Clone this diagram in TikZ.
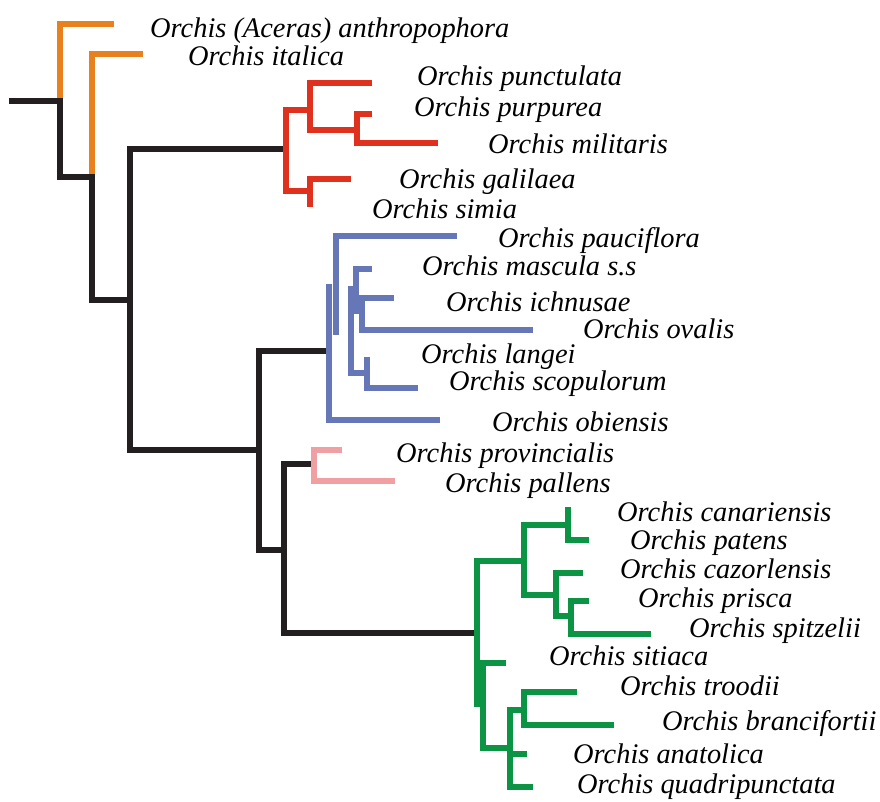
\documentclass[tikz,border=0pt]{standalone}
\usepackage{fontspec}
\setmainfont{Liberation Serif}
\begin{document}
\begin{tikzpicture}[x=1pt,y=-1pt,
  br/.style={line width=6pt,line join=miter,line cap=butt},
  blk/.style={br,draw=brblack},
  org/.style={br,draw=brorange},
  rd/.style={br,draw=brred},
  blu/.style={br,draw=brblue},
  pnk/.style={br,draw=brpink},
  grn/.style={br,draw=brgreen},
  taxon/.style={anchor=base west,inner sep=0pt,font=\fontsize{28.4}{34}\selectfont\itshape}]
\definecolor{brblack}{HTML}{231F20}
\definecolor{brorange}{HTML}{E8801E}
\definecolor{brred}{HTML}{E0301E}
\definecolor{brblue}{HTML}{6677B8}
\definecolor{brpink}{HTML}{F0A0A2}
\definecolor{brgreen}{HTML}{0A9444}
\useasboundingbox (0,0) rectangle (880,801);

% backbone
\draw[blk] (9,101) -- (60,101) -- (60,177) -- (92,177) -- (92,300) -- (130,300);
\draw[blk] (284,149) -- (130,149) -- (130,450) -- (259,450);
\draw[blk] (326,351) -- (259,351) -- (259,550) -- (284,550);
\draw[blk] (311,464) -- (284,464) -- (284,633) -- (475,633);

% anthropophora / italica
\draw[org] (60,98) -- (60,24) -- (114,24);
\draw[org] (92,174) -- (92,54) -- (143,54);

% militaris group
\draw[rd] (310,110) -- (286,110) -- (286,191) -- (310,191);
\draw[rd] (372,83) -- (310,83) -- (310,130) -- (357,130);
\draw[rd] (372,114) -- (357,114) -- (357,143) -- (438,143);
\draw[rd] (351,179) -- (310,179) -- (310,207);

% mascula group
\draw[blu] (457,236) -- (336,236) -- (336,335);
\draw[blu] (329,284) -- (329,420) -- (440,420);
\draw[blu] (350.5,285.7) -- (350.5,373) -- (367,373);
\draw[blu] (372,269) -- (356.3,269) -- (356.3,314.3);
\draw[blu] (394,298) -- (362,298) -- (362,330) -- (533,330);
\draw[blu] (367,357) -- (367,388) -- (418,388);

% provincialis / pallens
\draw[pnk] (342,450) -- (314,450) -- (314,481) -- (395,481);

% anatolica group
\draw[grn] (527,561) -- (477,561) -- (477,707);
\draw[grn] (570,525) -- (524,525) -- (524,595) -- (556,595);
\draw[grn] (568,507) -- (568,540) -- (589,540);
\draw[grn] (583,573) -- (556,573) -- (556,616) -- (571,616);
\draw[grn] (589,601) -- (571,601) -- (571,634) -- (651,634);
\draw[grn] (506,663) -- (483,663) -- (483,748) -- (510,748);
\draw[grn] (527,710) -- (510,710) -- (510,787) -- (533,787);
\draw[grn] (510,754) -- (527,754);
\draw[grn] (577,692) -- (524,692) -- (524,725) -- (614,725);

% taxon labels
\node[taxon] (anthropophora) at (150,37) {Orchis (Aceras) anthropophora};
\node[taxon] (italica) at (188,65) {Orchis italica};
\node[taxon] (punctulata) at (417,85) {Orchis punctulata};
\node[taxon] (purpurea) at (414,116) {Orchis purpurea};
\node[taxon] (militaris) at (488,153) {Orchis militaris};
\node[taxon] (galilaea) at (399,188) {Orchis galilaea};
\node[taxon] (simia) at (372,218) {Orchis simia};
\node[taxon] (pauciflora) at (498,247) {Orchis pauciflora};
\node[taxon] (mascula) at (422,275) {Orchis mascula s.s};
\node[taxon] (ichnusae) at (446,311) {Orchis ichnusae};
\node[taxon] (ovalis) at (583,338) {Orchis ovalis};
\node[taxon] (langei) at (421,363) {Orchis langei};
\node[taxon] (scopulorum) at (449,390) {Orchis scopulorum};
\node[taxon] (obiensis) at (492,431) {Orchis obiensis};
\node[taxon] (provincialis) at (396,462) {Orchis provincialis};
\node[taxon] (pallens) at (445,492) {Orchis pallens};
\node[taxon] (canariensis) at (617,521) {Orchis canariensis};
\node[taxon] (patens) at (630,549) {Orchis patens};
\node[taxon] (cazorlensis) at (620,578) {Orchis cazorlensis};
\node[taxon] (prisca) at (638,607) {Orchis prisca};
\node[taxon] (spitzelii) at (689,637) {Orchis spitzelii};
\node[taxon] (sitiaca) at (549,665) {Orchis sitiaca};
\node[taxon] (troodii) at (620,695) {Orchis troodii};
\node[taxon] (brancifortii) at (662,730) {Orchis brancifortii};
\node[taxon] (anatolica) at (573,763) {Orchis anatolica};
\node[taxon] (quadripunctata) at (577,793) {Orchis quadripunctata};
\end{tikzpicture}
\end{document}
